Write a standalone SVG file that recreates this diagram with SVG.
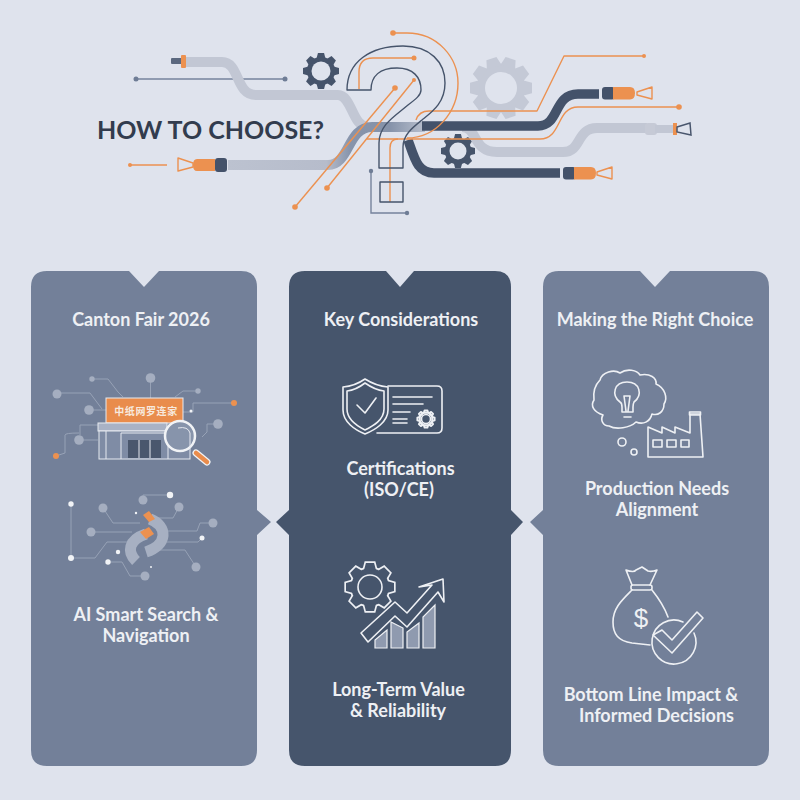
<svg xmlns="http://www.w3.org/2000/svg" width="800" height="800" viewBox="0 0 800 800">
<style>
text{font-family:"Lato","Open Sans","Liberation Sans",sans-serif}
.t,.h{font-size:18px;font-weight:700;fill:#eef0f4;text-anchor:middle}
.o{fill:none;stroke:#ec9150;stroke-width:1.4;stroke-linejoin:round}
.of{fill:#ec9150}
.g{fill:none;stroke:#76839c;stroke-width:1.4}
.gf{fill:#6f7d96}
.d{fill:none;stroke:#44526a;stroke-width:9.500}
.l{fill:none;stroke:#c2c7d4;stroke-width:10}
.q{fill:none;stroke:#46546b;stroke-width:1.400;stroke-linejoin:round}
.w{fill:none;stroke:#eef0f4;stroke-width:1.600;stroke-linejoin:round;stroke-linecap:round}
.n{fill:none;stroke:#97a2b6;stroke-width:1}
.nf{fill:#a5aec0}
.wf{fill:#f1f3f6}
</style>
<defs>
<polygon id="tooth" points="-.17,-1 .17,-1 .25,-.7 -.25,-.7"/>
<g id="g8"><circle r=".78"/><use href="#tooth"/><use href="#tooth" transform="rotate(45)"/><use href="#tooth" transform="rotate(90)"/><use href="#tooth" transform="rotate(135)"/><use href="#tooth" transform="rotate(180)"/><use href="#tooth" transform="rotate(225)"/><use href="#tooth" transform="rotate(270)"/><use href="#tooth" transform="rotate(315)"/></g>
<g id="g10"><circle r=".78"/><use href="#tooth" transform="rotate(18)"/><use href="#tooth" transform="rotate(54)"/><use href="#tooth" transform="rotate(90)"/><use href="#tooth" transform="rotate(126)"/><use href="#tooth" transform="rotate(162)"/><use href="#tooth" transform="rotate(198)"/><use href="#tooth" transform="rotate(234)"/><use href="#tooth" transform="rotate(270)"/><use href="#tooth" transform="rotate(306)"/><use href="#tooth" transform="rotate(342)"/></g>
<linearGradient id="mid" gradientUnits="userSpaceOnUse" x1="228" y1="0" x2="425" y2="0"><stop offset="0" stop-color="#bcc2d0"/><stop offset=".5" stop-color="#b6bccb"/><stop offset=".62" stop-color="#8794ab"/><stop offset=".82" stop-color="#8592a9"/><stop offset="1" stop-color="#b8bfcd"/></linearGradient>
</defs>
<rect id="background" width="800" height="800" fill="#dfe3ed"/>

<g id="gears">
<use href="#g10" transform="translate(501,88) scale(31)" fill="#c4c9d6"/><circle cx="501" cy="88" r="16" fill="#dfe3ed"/>
<use href="#g8" transform="translate(321,71) scale(18)" fill="#46546b"/><circle cx="321" cy="71" r="9.500" fill="#dfe3ed"/>
<use href="#g8" transform="translate(458,151) scale(17)" fill="#46546b"/><circle cx="458" cy="151" r="8.500" fill="#dfe3ed"/>
</g>

<g id="connectors">
<path class="g" d="M136 79H285"/><circle class="gf" cx="136" cy="79" r="2.500"/><circle class="gf" cx="285" cy="79" r="2.500"/>
<path class="l" d="M186 62H222C240 62 235 95 256 95H338C352 95 352 127 368 127"/>
<path d="M228 165H328C350 165 347 127 372 127H425" fill="none" stroke="url(#mid)" stroke-width="10"/>
<path class="l" d="M462 127C478 127 472 152 497 152H563C582 152 576 128 597 128H647"/>
<rect x="645" y="123" width="12" height="12" rx="3" fill="#c6cad6"/>
<rect x="673" y="123" width="4" height="12" fill="#ec9150"/>
<path class="l" d="M655 129H673" style="stroke-width:8"/>
<path d="M677 127L690 123L691 135L677 132Z" fill="none" stroke="#49566d" stroke-width="1.500"/>
<path class="d" d="M422 126H538C560 126 553 94 578 94H599"/>
<path class="d" d="M408 140C415 160 418 173 434 173H560"/>
<rect x="602" y="87" width="13" height="12.500" rx="3" fill="#44526a"/><path class="of" d="M613 87H630Q635 87 635 93Q635 99.500 630 99.500H613Z"/>
<path class="o" d="M637 92L652 87V99L637 95Z"/>
<rect x="563" y="167" width="13" height="12.500" rx="3" fill="#44526a"/><path class="of" d="M574 167H591Q596 167 596 173Q596 179.500 591 179.500H574Z"/>
<path class="o" d="M597 172L612 167V179L597 175Z"/>
<rect x="171" y="58" width="11" height="6" rx="1" fill="#5b687f"/><rect x="181" y="55" width="5" height="13" rx="1" fill="#ec9150"/>
<path class="of" d="M197 159H215V171H197Q193 171 193 165Q193 159 197 159Z"/><rect x="215" y="158" width="12" height="14" rx="3" fill="#44526a"/>
<path class="o" d="M178 158L193 163V167L178 171Z"/>
<path class="o" d="M130 165H167"/><circle class="of" cx="130" cy="165" r="2"/>
<path class="o" d="M295 207L395 88"/><circle class="of" cx="295" cy="207" r="2.800"/><circle class="of" cx="395" cy="88" r="2.800"/>
<path class="o" d="M327 188L414 80"/><circle class="of" cx="327" cy="188" r="2.800"/><circle class="of" cx="414" cy="80" r="2"/>
<path class="o" d="M393 33H407C438 33 458 58 458 83C458 112 436 138 407 138"/><circle class="of" cx="393" cy="33" r="2.800"/>
<path class="o" d="M359 89V72Q359 58 373 58H414"/><circle class="of" cx="414" cy="58" r="2.500"/>
<path class="o" d="M416 120Q419 111 429 111H537L564 56H644"/><circle class="of" cx="644" cy="56" r="2"/>
<path class="o" d="M367 139H540C562 139 556 107 578 107H679"/><circle class="of" cx="679" cy="107" r="2.800"/>
<path class="o" d="M390 202V148Q390 139 398 139"/>
<path class="g" d="M371 171V213H407"/><circle class="gf" cx="371" cy="171" r="2.200"/><circle class="gf" cx="407" cy="213" r="2.200"/>
<path class="q" d="M347 90C347 62 370 46 403 46C430 46 445 62 445 83C445 103 432 112 422 120C412 128 403 135 403 147V168H379V143C379 125 395 116 408 105C416 99 421 95 421 90C421 77 413 68 397 68C380 68 371 76 371 90Z"/>
<rect class="q" x="380" y="182" width="23" height="20"/>
</g>
<text id="title" x="97" y="139" fill="#323c4e" style="font-size:25px;font-weight:700">HOW TO CHOOSE?</text>

<g id="panel-left">
<path d="M47 271H129L144 287L159 271H241Q257 271 257 287V510L271 522L257 535V750Q257 766 241 766H47Q31 766 31 750V287Q31 271 47 271Z" fill="#738099"/>
<text class="h" x="141" y="326">Canton Fair 2026</text>
</g>
<g id="panel-center">
<path d="M305 271H386L400 287L414 271H495Q511 271 511 287V510L523 522L511 535V750Q511 766 495 766H305Q289 766 289 750V535L276 522L289 510V287Q289 271 305 271Z" fill="#46556c"/>
<text class="h" x="401" y="326">Key Considerations</text>
</g>
<g id="panel-right">
<path d="M559 271H640L655 287L670 271H753Q769 271 769 287V750Q769 766 753 766H559Q543 766 543 750V535L530 522L543 510V287Q543 271 559 271Z" fill="#738099"/>
<text class="h" x="655" y="326">Making the Right Choice</text>
</g>

<g id="store-icon">
<path class="n" d="M92 379H108L118 392L123 397M57 393H90L102 409M89 410H106M79 440H98M98 425H80V435M56 456L65 453V435Q65 433 79 433M150.500 378V398M198 391H183L175 397M234 403H193V412H183M218 424H207V432L202 437"/>
<circle class="nf" cx="92" cy="379" r="2.700"/><circle class="nf" cx="57" cy="394" r="4.500"/><circle class="nf" cx="89" cy="410" r="4.800"/><circle class="nf" cx="79" cy="440" r="4.800"/><circle class="nf" cx="150.500" cy="378" r="4.800"/><circle class="nf" cx="198" cy="391" r="2.700"/><circle class="nf" cx="218" cy="424" r="4.800"/>
<circle class="wf" cx="191" cy="411" r="1.500"/>
<circle class="of" cx="234" cy="403" r="3"/><circle class="of" cx="56" cy="456" r="3"/>
<rect x="106" y="398" width="77" height="25" fill="#e98c4c" stroke="#e6e9f0" stroke-width="1"/>
<text x="146" y="415" fill="#f7e9de" text-anchor="middle" style="font-family:'Noto Sans CJK SC','Noto Sans',sans-serif;font-size:10px;font-weight:700;letter-spacing:.6px">中纸网罗连家</text>
<rect x="98" y="423" width="69" height="8" fill="#a9b2c5" stroke="#e6e9f0" stroke-width="1"/>
<rect x="99" y="431" width="91" height="28" fill="#7f8ca5" stroke="#e6e9f0" stroke-width="1"/>
<path d="M106 431V459M121 459V433H168V459" fill="none" stroke="#e6e9f0" stroke-width="1"/>
<rect x="128" y="440" width="33" height="18" fill="#4a576d"/>
<path d="M139 440V458M150 440V458" stroke="#e6e9f0" stroke-width="1"/>
<circle cx="180" cy="436" r="15" fill="#8794ab" stroke="#f1f3f6" stroke-width="2.500"/>
<path d="M178 428Q188 426 190 433V448" fill="none" stroke="#e6e9f0" stroke-width="1"/>
<path d="M196 453L207 462" stroke="#f1f3f6" stroke-width="7" stroke-linecap="round"/>
<path d="M196 453L207 462" stroke="#e98c4c" stroke-width="4.500" stroke-linecap="round"/>
</g>

<g id="search-icon">
<path class="n" d="M71 504V558H95L107 542H130M103 508L113 523H140M143 500V495H170M179 507L173 518H158M91 532H132M213 523H200L197 531H168M202 538L198 542H167M196 567L185 550H160M108 562H122L130 576H145"/>
<circle class="nf" cx="143" cy="500" r="4.500"/><circle class="nf" cx="103" cy="508" r="4.500"/><circle class="nf" cx="179" cy="507" r="4.500"/><circle class="nf" cx="91" cy="532" r="4.500"/><circle class="nf" cx="213" cy="523" r="4.500"/><circle class="nf" cx="196" cy="567" r="4.500"/><circle class="nf" cx="145" cy="576" r="4.500"/>
<circle class="wf" cx="71" cy="504" r="2.700"/><circle class="wf" cx="170" cy="495" r="3.200"/><circle class="wf" cx="202" cy="538" r="2.500"/><circle class="wf" cx="71" cy="558" r="3"/><circle class="wf" cx="118" cy="552" r="2.200"/><circle class="wf" cx="108" cy="562" r="2.700"/><circle class="wf" cx="136" cy="513" r="1.200"/><circle class="wf" cx="151" cy="567" r="1"/>
<path d="M150 519C168 526 168 545 146 552" fill="none" stroke="#a7b0c2" stroke-width="11"/>
<path d="M146 534C128 540 127 552 136 561" fill="none" stroke="#a7b0c2" stroke-width="11"/>
<path d="M143 516L149 512L155 520L149 523Z" class="of" transform="translate(0,-1)"/><path class="of" d="M140 532L149 527L154 534L146 539Z"/>
</g>
<text class="t" x="146" y="621">AI Smart Search &amp;</text>
<text class="t" x="146" y="642">Navigation</text>

<g id="cert-icon" class="w">
<path d="M365 379Q376 386 388 387V410C388 422 375 430 365 434C355 430 343 422 343 410V387Q355 386 365 379Z"/>
<path d="M365 383Q375 390 384 391V409C384 420 373 426 365 430C357 426 347 420 347 409V391Q356 390 365 383Z"/>
<path d="M357 405L365 413L376 398"/>
<path d="M388 386H437Q442 386 442 391V428Q442 433 437 433H377M393 397H432M393 404H423M393 412H410M393 419H407M393 423H407"/>
<use href="#g8" transform="translate(426,419) scale(8.700)" stroke-width=".2"/><circle cx="426" cy="419" r="4.500"/>
</g>
<text class="t" x="400.500" y="475">Certifications</text>
<text class="t" x="399" y="496">(ISO/CE)</text>

<g id="growth-icon">
<use href="#g8" transform="translate(370,587) scale(24)" fill="#46556c" stroke="#eef0f4" stroke-width=".14"/>
<use href="#g8" transform="translate(370,587) scale(24)" fill="#46556c"/>
<circle class="w" cx="370" cy="587" r="12"/>
<path d="M361 633L395 602L407 613L432 585L419 587L443 579L444 602L438 592L407 627L395 616L368 642Z" fill="#46556c" stroke="#eef0f4" stroke-width="1.600" stroke-linejoin="round"/>
<path d="M375 648V640L387 630V648ZM391 648V622L403 628V648ZM407 648V632L419 623V648ZM423 648V617L435 605V648Z" fill="#8f9aaf" stroke="#eef0f4" stroke-width="1.200"/>
</g>
<text class="t" x="398.500" y="696">Long-Term Value</text>
<text class="t" x="398" y="717">&amp; Reliability</text>

<g id="idea-icon" class="w">
<path d="M600 380C602 372 614 369 620 373C627 368 637 370 640 375C650 373 657 378 656 384C665 388 668 398 664 404C664 412 658 416 652 414C650 422 643 425 636 422C630 428 616 430 609 426C603 426 600 420 603 415C594 412 590 406 594 400C593 392 595 385 600 380Z"/>
<path d="M622 412V407Q622 403 620 402C611 395 614 382 627 382C640 382 643 395 634 402Q633 404 633 407V412ZM622 412H633M624 417H631M624 396L626 411M630 396L628 411M624 396H630"/>
<circle cx="622" cy="442" r="4"/><circle cx="634" cy="452" r="3"/>
<path d="M648 427V457H703L700 414H690V433L675 427V433L662 427V433Z"/>
<rect x="689.500" y="412" width="11" height="3"/>
<rect x="653" y="440" width="9" height="7"/><rect x="667" y="440" width="9" height="7"/><rect x="681" y="440" width="8" height="7"/>
</g>
<text class="t" x="657" y="495">Production Needs</text>
<text class="t" x="657" y="516">Alignment</text>

<g id="money-icon" class="w">
<path d="M632 585L626 570Q634 573 636 570L642 567L648 571Q652 572 657 570L650 585"/>
<rect x="631" y="585" width="21" height="5" rx="2"/>
<path d="M632 590C622 600 613 608 613 622C613 634 618 641 632 643L650 645M652 590C660 600 664 606 668 617"/>
<path d="M683 622A22 22 0 1 0 694 633"/>
<path d="M653 635L662 630L672 640L697 612L703 618L672 653Z"/>
</g>
<text x="641" y="627" fill="#eef0f4" text-anchor="middle" style="font-family:'Liberation Sans',sans-serif;font-size:26px">$</text>
<text class="t" x="651" y="701">Bottom Line Impact &amp;</text>
<text class="t" x="656.500" y="722">Informed Decisions</text>
</svg>
